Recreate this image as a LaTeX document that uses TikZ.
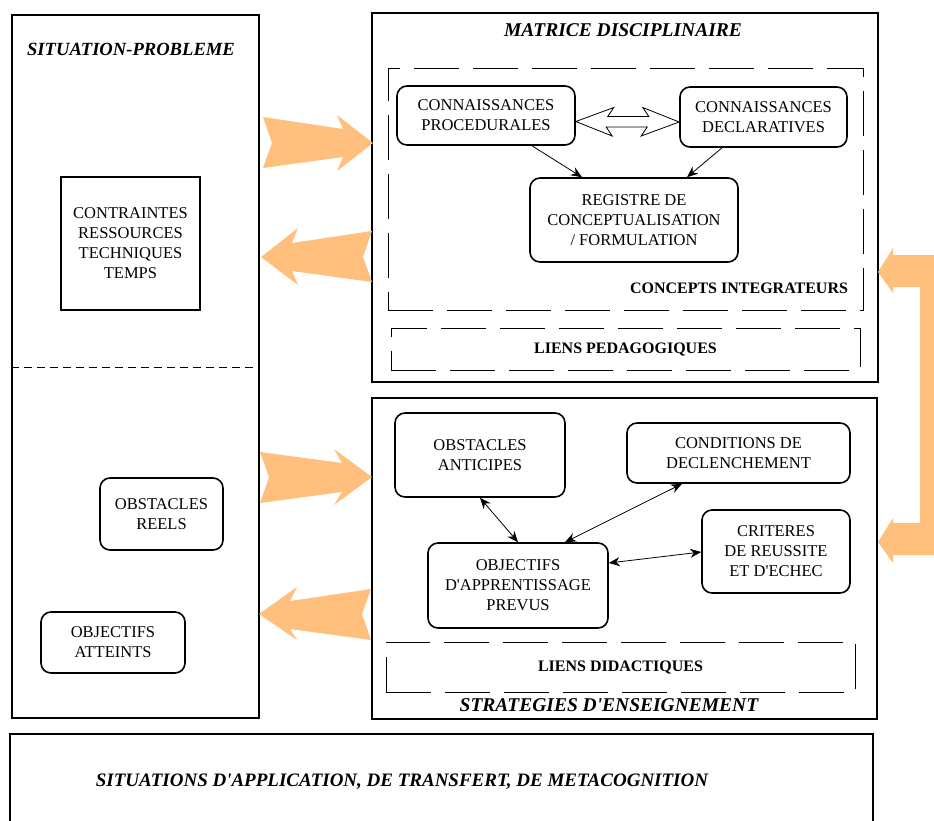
\documentclass[tikz,border=0pt]{standalone}
\usepackage{fontspec}
\setmainfont{Liberation Serif}
\usetikzlibrary{positioning, arrows.meta, calc}
\definecolor{fatorange}{RGB}{255,191,125}

\begin{document}
\begin{tikzpicture}[x=1pt,y=-1pt]
		\tikzstyle{frame} = [draw, line width=2.2pt, inner sep=0]
		\tikzstyle{box} = [draw, line width=1.6pt, rounded corners=10pt, align=center, inner sep=0, font=\fontsize{16.5}{20}\selectfont]
		\tikzstyle{sqbox} = [box, rounded corners=0pt, line width=2pt]
		\tikzstyle{dashbox} = [draw, line width=0.9pt, dash pattern=on 45pt off 14pt, inner sep=0, font=\bfseries\fontsize{16}{19}\selectfont]
		\tikzstyle{title} = [font=\bfseries\itshape\fontsize{19.5}{22}\selectfont]
		\tikzstyle{arr} = [-{Stealth[length=11pt,width=9pt]}, line width=0.8pt]
		\tikzstyle{dbl} = [{Stealth[length=11pt,width=9pt]}-{Stealth[length=11pt,width=9pt]}, line width=0.8pt]
		\tikzstyle{fat} = [fill=fatorange]
		\useasboundingbox (0,0) rectangle (934,820);
		% situation-probleme
		\node [frame, minimum width=247, minimum height=703] (sit) at (135.5,366.5) {};
		\node [title, font=\bfseries\itshape\fontsize{18.6}{22}\selectfont] (sitt) at (131,49) {SITUATION-PROBLEME};
		\draw [line width=0.8pt, dash pattern=on 8pt off 5pt] (sit.west |- 0,367) -- (sit.east |- 0,367);
		\node [sqbox, minimum width=139, minimum height=133] (cr) at (130.5,243.5) {CONTRAINTES\\RESSOURCES\\TECHNIQUES\\TEMPS};
		\node [box, minimum width=123, minimum height=72] (or) at (161.5,514) {OBSTACLES\\REELS};
		\node [box, minimum width=144, minimum height=61] (oat) at (113,642.5) {OBJECTIFS\\ATTEINTS};
		% matrice disciplinaire
		\node [frame, minimum width=506, minimum height=369] (mat) at (625,197.5) {};
		\node [title] (matt) at (623,30) {MATRICE DISCIPLINAIRE};
		\node [dashbox, minimum width=475, minimum height=242] (ci) at (625.5,189) {};
		\node [font=\bfseries\fontsize{16}{19}\selectfont] (cit) at (739,288) {CONCEPTS INTEGRATEURS};
		\node [dashbox, minimum width=469, minimum height=42] (lp) at (625.5,349) {LIENS PEDAGOGIQUES};
		\node [box, minimum width=178, minimum height=59] (cp) at (486,115.5) {CONNAISSANCES\\PROCEDURALES};
		\node [box, minimum width=167, minimum height=60] (cd) at (763.5,117) {CONNAISSANCES\\DECLARATIVES};
		\node [box, minimum width=208, minimum height=84] (reg) at (634,220) {REGISTRE DE\\CONCEPTUALISATION\\/ FORMULATION};
		\draw [arr] (cp.south -| 532,0) -- (reg.north -| 582,0);
		\draw [arr] (cd.south -| 722,0) -- (reg.north -| 687,0);
		\coordinate (dl) at ($(cp.east)+(0,6)$);
		\coordinate (dr) at ($(cd.west)+(0,5)$);
		\draw [line width=0.8pt, fill=white] (dl) -- ++(38,-14) -- ++(-6,9) -- ++(41,0) -- ++(-6,-9) -- (dr)
			-- ++(-38,14) -- ++(6,-9) -- ++(-41,0) -- ++(6,9) -- cycle;
		% strategies d'enseignement
		\node [frame, minimum width=505, minimum height=321] (str) at (624.5,558.5) {};
		\node [title] (strt) at (609,705) {STRATEGIES D\textquotesingle ENSEIGNEMENT};
		\node [dashbox, minimum width=469, minimum height=50] (ld) at (620.5,667) {LIENS DIDACTIQUES};
		\node [box, minimum width=170, minimum height=84] (oan) at (480,455) {OBSTACLES\\ANTICIPES};
		\node [box, minimum width=223, minimum height=60] (cond) at (738.5,453) {CONDITIONS DE\\DECLENCHEMENT};
		\node [box, minimum width=148, minimum height=83] (crit) at (776,551.5) {CRITERES\\DE REUSSITE\\ET D\textquotesingle ECHEC};
		\node [box, minimum width=180, minimum height=85] (obj) at (518,585.5) {OBJECTIFS\\D\textquotesingle APPRENTISSAGE\\PREVUS};
		\draw [dbl] (oan.south -| 480,0) -- (obj.north -| 518,0);
		\draw [dbl] (cond.south -| 682,0) -- (obj.north -| 565,0);
		\draw [dbl] (crit.west |- 0,552) -- (obj.east |- 0,563);
		% fat arrows
		\fill [fat] (263,117) -- (343,129) -- (337,115) -- (373,143) -- (337,171) -- (343,157) -- (263,168) -- (272,143) -- cycle;
		\fill [fat] (372,231) -- (292,243) -- (298,228) -- (261,257) -- (298,285) -- (292,271) -- (372,282) -- (363,257) -- cycle;
		\fill [fat] (260,452) -- (342,463) -- (334,449) -- (372,477) -- (334,505) -- (342,492) -- (260,503) -- (269,477) -- cycle;
		\fill [fat] (371,589) -- (290,601) -- (297,587) -- (259,614) -- (297,640) -- (290,629) -- (371,640) -- (362,614) -- cycle;
		\fill [fat] (934,255) -- (893,255) -- (893,248) -- (878,272) -- (893,293) -- (893,287) -- (920,287) -- (920,523)
			-- (893,523) -- (893,518) -- (878,542) -- (893,563) -- (893,555) -- (934,555) -- cycle;
		% situations d'application
		\node [title, font=\bfseries\itshape\fontsize{19}{22}\selectfont] (app) at (402,782) {SITUATIONS D\textquotesingle APPLICATION, DE TRANSFERT, DE METACOGNITION};
		\draw [line width=2.2pt] (10,822) |- (873,734) -- (873,822);
\end{tikzpicture}
\end{document}
